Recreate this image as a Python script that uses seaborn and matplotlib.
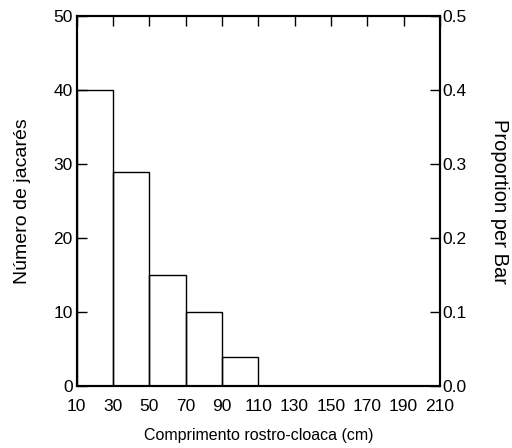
import numpy as np
import matplotlib
matplotlib.use("Agg")
import matplotlib.pyplot as plt
import seaborn as sns

# Histogram data
bin_edges = [10, 30, 50, 70, 90, 110, 130, 150, 170, 190, 210]
bin_mids = [20, 40, 60, 80, 100, 120, 140, 160, 180, 200]
counts = [40, 29, 15, 10, 4, 0, 0, 0, 0, 0]
x_ticks = [10, 30, 50, 70, 90, 110, 130, 150, 170, 190, 210]
y_ticks = [0, 10, 20, 30, 40, 50]
prop_ticks = [0.0, 0.1, 0.2, 0.3, 0.4, 0.5]

sns.set_style("white")
plt.rcParams["font.family"] = ["Liberation Sans", "DejaVu Sans"]
plt.rcParams["text.color"] = "black"
plt.rcParams["axes.labelcolor"] = "black"

fig = plt.figure(figsize=(5.12, 4.48), dpi=100)
ax = fig.add_axes([0.150, 0.138, 0.709, 0.826])

sns.histplot(x=bin_mids, weights=counts, bins=bin_edges, fill=False,
             color="black", linewidth=1.0, element="bars", ax=ax)

ax.set_xlim(10, 210)
ax.set_ylim(0, 50)
ax.set_xticks(x_ticks)
ax.set_yticks(y_ticks)
ax.set_xlabel("Comprimento rostro-cloaca (cm)", fontsize=11.5, labelpad=10)
ax.set_ylabel("Número de jacarés", fontsize=14, labelpad=16)
ax.tick_params(axis="x", direction="in", length=7, width=1, top=True,
               labelsize=12.5, pad=9, colors="black")
ax.tick_params(axis="y", direction="in", length=7, width=1, left=True,
               right=False, labelsize=12.5, pad=3, colors="black")
for s in ax.spines.values():
    s.set_color("black")
    s.set_linewidth(1.5)
    s.set_visible(True)

ax2 = ax.twinx()
ax2.set_ylim(0, 0.5)
ax2.set_yticks(prop_ticks)
ax2.set_yticklabels([f"{v:.1f}" for v in prop_ticks])
ax2.tick_params(axis="y", direction="in", length=7, width=1, labelsize=12.5,
                pad=2, colors="black")
ax2.set_ylabel("Proportion per Bar", fontsize=14.5, rotation=270, labelpad=30)
for s in ax2.spines.values():
    s.set_color("black")
    s.set_linewidth(1.5)

fig.savefig("out.png", dpi=100)
